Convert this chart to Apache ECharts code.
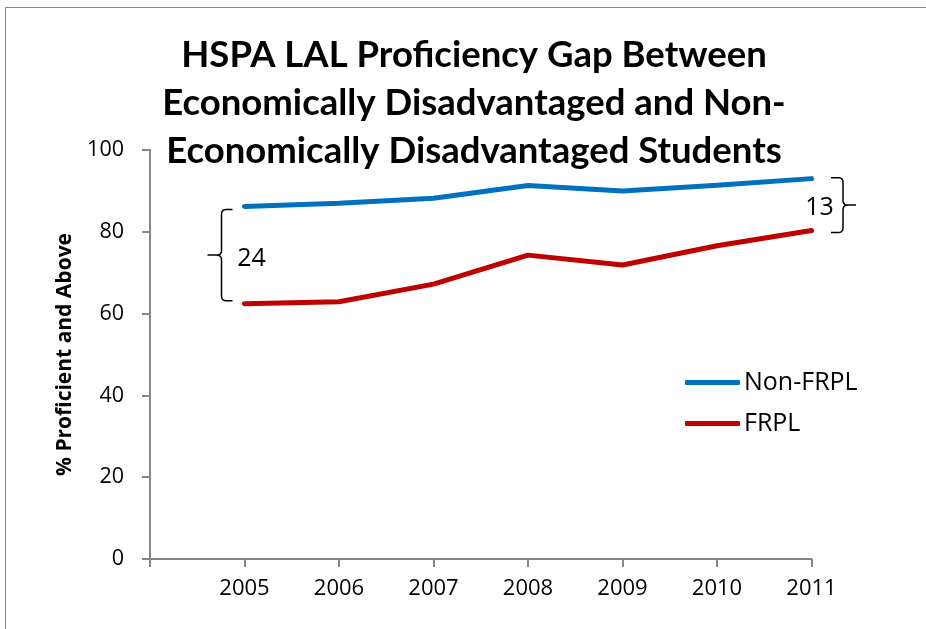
<!DOCTYPE html>
<html>
<head>
<meta charset="utf-8">
<script src="https://cdn.jsdelivr.net/npm/echarts@6/dist/echarts.min.js"></script>
<style>
  html, body { margin: 0; padding: 0; background: #fff; }
  #main { width: 926px; height: 629px; }
</style>
</head>
<body>
<div id="main"></div>
<script>
var years = [2005, 2006, 2007, 2008, 2009, 2010, 2011];
var nonFrpl = [86.2, 87.0, 88.2, 91.3, 90.0, 91.4, 93.0];
var frpl = [62.4, 62.9, 67.2, 74.3, 71.9, 76.6, 80.3];
var yTicks = [0, 20, 40, 60, 80, 100];

var myChart = echarts.init(document.getElementById('main'));

function pairs(vals) {
    return years.map(function (y, i) { return [y, vals[i]]; });
}

var titleFont = 'Lato, sans-serif';
var font = '"Open Sans", sans-serif';

var option = {
    animation: false,
    title: {
        text: 'HSPA LAL Proficiency Gap Between\nEconomically Disadvantaged and Non-\nEconomically Disadvantaged Students',
        left: 474,
        textAlign: 'center',
        top: 31,
        padding: 0,
        textStyle: {
            fontFamily: titleFont,
            fontWeight: 'bold',
            fontSize: 36.5,
            lineHeight: 48,
            color: '#000'
        }
    },
    legend: {
        data: ['Non-FRPL', 'FRPL'],
        orient: 'vertical',
        left: 685,
        top: 370,
        padding: 0,
        itemWidth: 55,
        itemHeight: 5,
        itemGap: 16,
        icon: 'roundRect',
        textStyle: { fontFamily: font, fontSize: 25, color: '#000', padding: [0, 0, 0, -1] }
    },
    grid: {
        left: 150,
        right: 114.5,
        top: 150,
        bottom: 70,
        containLabel: false
    },
    xAxis: {
        type: 'value',
        min: 2004,
        max: 2011,
        interval: 1,
        splitLine: { show: false },
        axisLine: { lineStyle: { color: '#868686', width: 2 } },
        axisTick: { show: true, length: 8, lineStyle: { color: '#868686', width: 2 } },
        axisLabel: {
            margin: 19,
            fontFamily: font,
            fontSize: 22,
            color: '#000',
            formatter: function (v) { return v === 2004 ? '' : String(v); }
        }
    },
    yAxis: {
        type: 'value',
        min: yTicks[0],
        max: yTicks[yTicks.length - 1],
        interval: 20,
        name: '% Proficient and Above',
        nameLocation: 'middle',
        nameGap: 74,
        nameRotate: 90,
        nameTextStyle: { fontFamily: font, fontWeight: 'bold', fontSize: 21, color: '#000' },
        splitLine: { show: false },
        axisLine: { show: true, lineStyle: { color: '#868686', width: 2 } },
        axisTick: { show: true, length: 8, lineStyle: { color: '#868686', width: 2 } },
        axisLabel: { margin: 26, fontFamily: font, fontSize: 21.5, color: '#000' }
    },
    series: [
        {
            name: 'Non-FRPL',
            type: 'line',
            data: pairs(nonFrpl),
            color: '#0070C0',
            symbol: 'none',
            lineStyle: { width: 5, cap: 'round' }
        },
        {
            name: 'FRPL',
            type: 'line',
            data: pairs(frpl),
            color: '#C00000',
            symbol: 'none',
            lineStyle: { width: 5, cap: 'round' }
        }
    ]
};

myChart.setOption(option);

// curly brace as a polyline: spine at x, from y1 to y2, hooks toward +hook, tip toward +tip
function quad(pts, p0, c, p1) {
    for (var t = 0.1; t <= 1.001; t += 0.1) {
        var a = (1 - t) * (1 - t), b = 2 * (1 - t) * t, d = t * t;
        pts.push([a * p0[0] + b * c[0] + d * p1[0], a * p0[1] + b * c[1] + d * p1[1]]);
    }
}
function brace(x, y1, y2, hook, tip) {
    var m = (y1 + y2) / 2, r = 5, s = hook > 0 ? 1 : -1;
    var pts = [[x + hook, y1], [x + s * r, y1]];
    quad(pts, [x + s * r, y1], [x, y1], [x, y1 + r]);
    pts.push([x, m - r]);
    quad(pts, [x, m - r], [x, m], [x - s * r, m]);
    pts.push([x + tip, m]);
    pts.push([x - s * r, m]);
    quad(pts, [x - s * r, m], [x, m], [x, m + r]);
    pts.push([x, y2 - r]);
    quad(pts, [x, y2 - r], [x, y2], [x + s * r, y2]);
    pts.push([x + hook, y2]);
    return pts;
}

var last = years.length - 1;
var p1 = myChart.convertToPixel({ gridIndex: 0 }, [years[0], nonFrpl[0]]);
var p2 = myChart.convertToPixel({ gridIndex: 0 }, [years[0], frpl[0]]);
var q1 = myChart.convertToPixel({ gridIndex: 0 }, [years[last], nonFrpl[last]]);
var q2 = myChart.convertToPixel({ gridIndex: 0 }, [years[last], frpl[last]]);
var gapFirst = Math.round(nonFrpl[0] - frpl[0]);
var gapLast = Math.round(nonFrpl[last] - frpl[last]);

var braceStyle = { stroke: '#000', lineWidth: 1.5, fill: null };
function label(txt, x, y) {
    return {
        type: 'text', x: x, y: y, silent: true,
        style: { text: txt, fontFamily: font, fontSize: 25, fill: '#000', align: 'center', verticalAlign: 'middle' }
    };
}

myChart.setOption({
    graphic: [
        {
            type: 'rect', silent: true,
            shape: { x: 5.5, y: 7.5, width: 960, height: 700 },
            style: { stroke: '#868686', lineWidth: 1, fill: null }
        },
        {
            type: 'polyline', silent: true,
            shape: { points: brace(p1[0] - 23, p1[1] + 3, p2[1] - 3, 11, -14) },
            style: braceStyle
        },
        label(String(gapFirst), p1[0] + 7, (p1[1] + p2[1]) / 2 + 4),
        {
            type: 'polyline', silent: true,
            shape: { points: brace(q1[0] + 31.5, q1[1] - 1, q2[1] + 2, -12, 13) },
            style: braceStyle
        },
        label(String(gapLast), q1[0] + 8, (q1[1] + q2[1]) / 2 + 3)
    ]
});
</script>
</body>
</html>
